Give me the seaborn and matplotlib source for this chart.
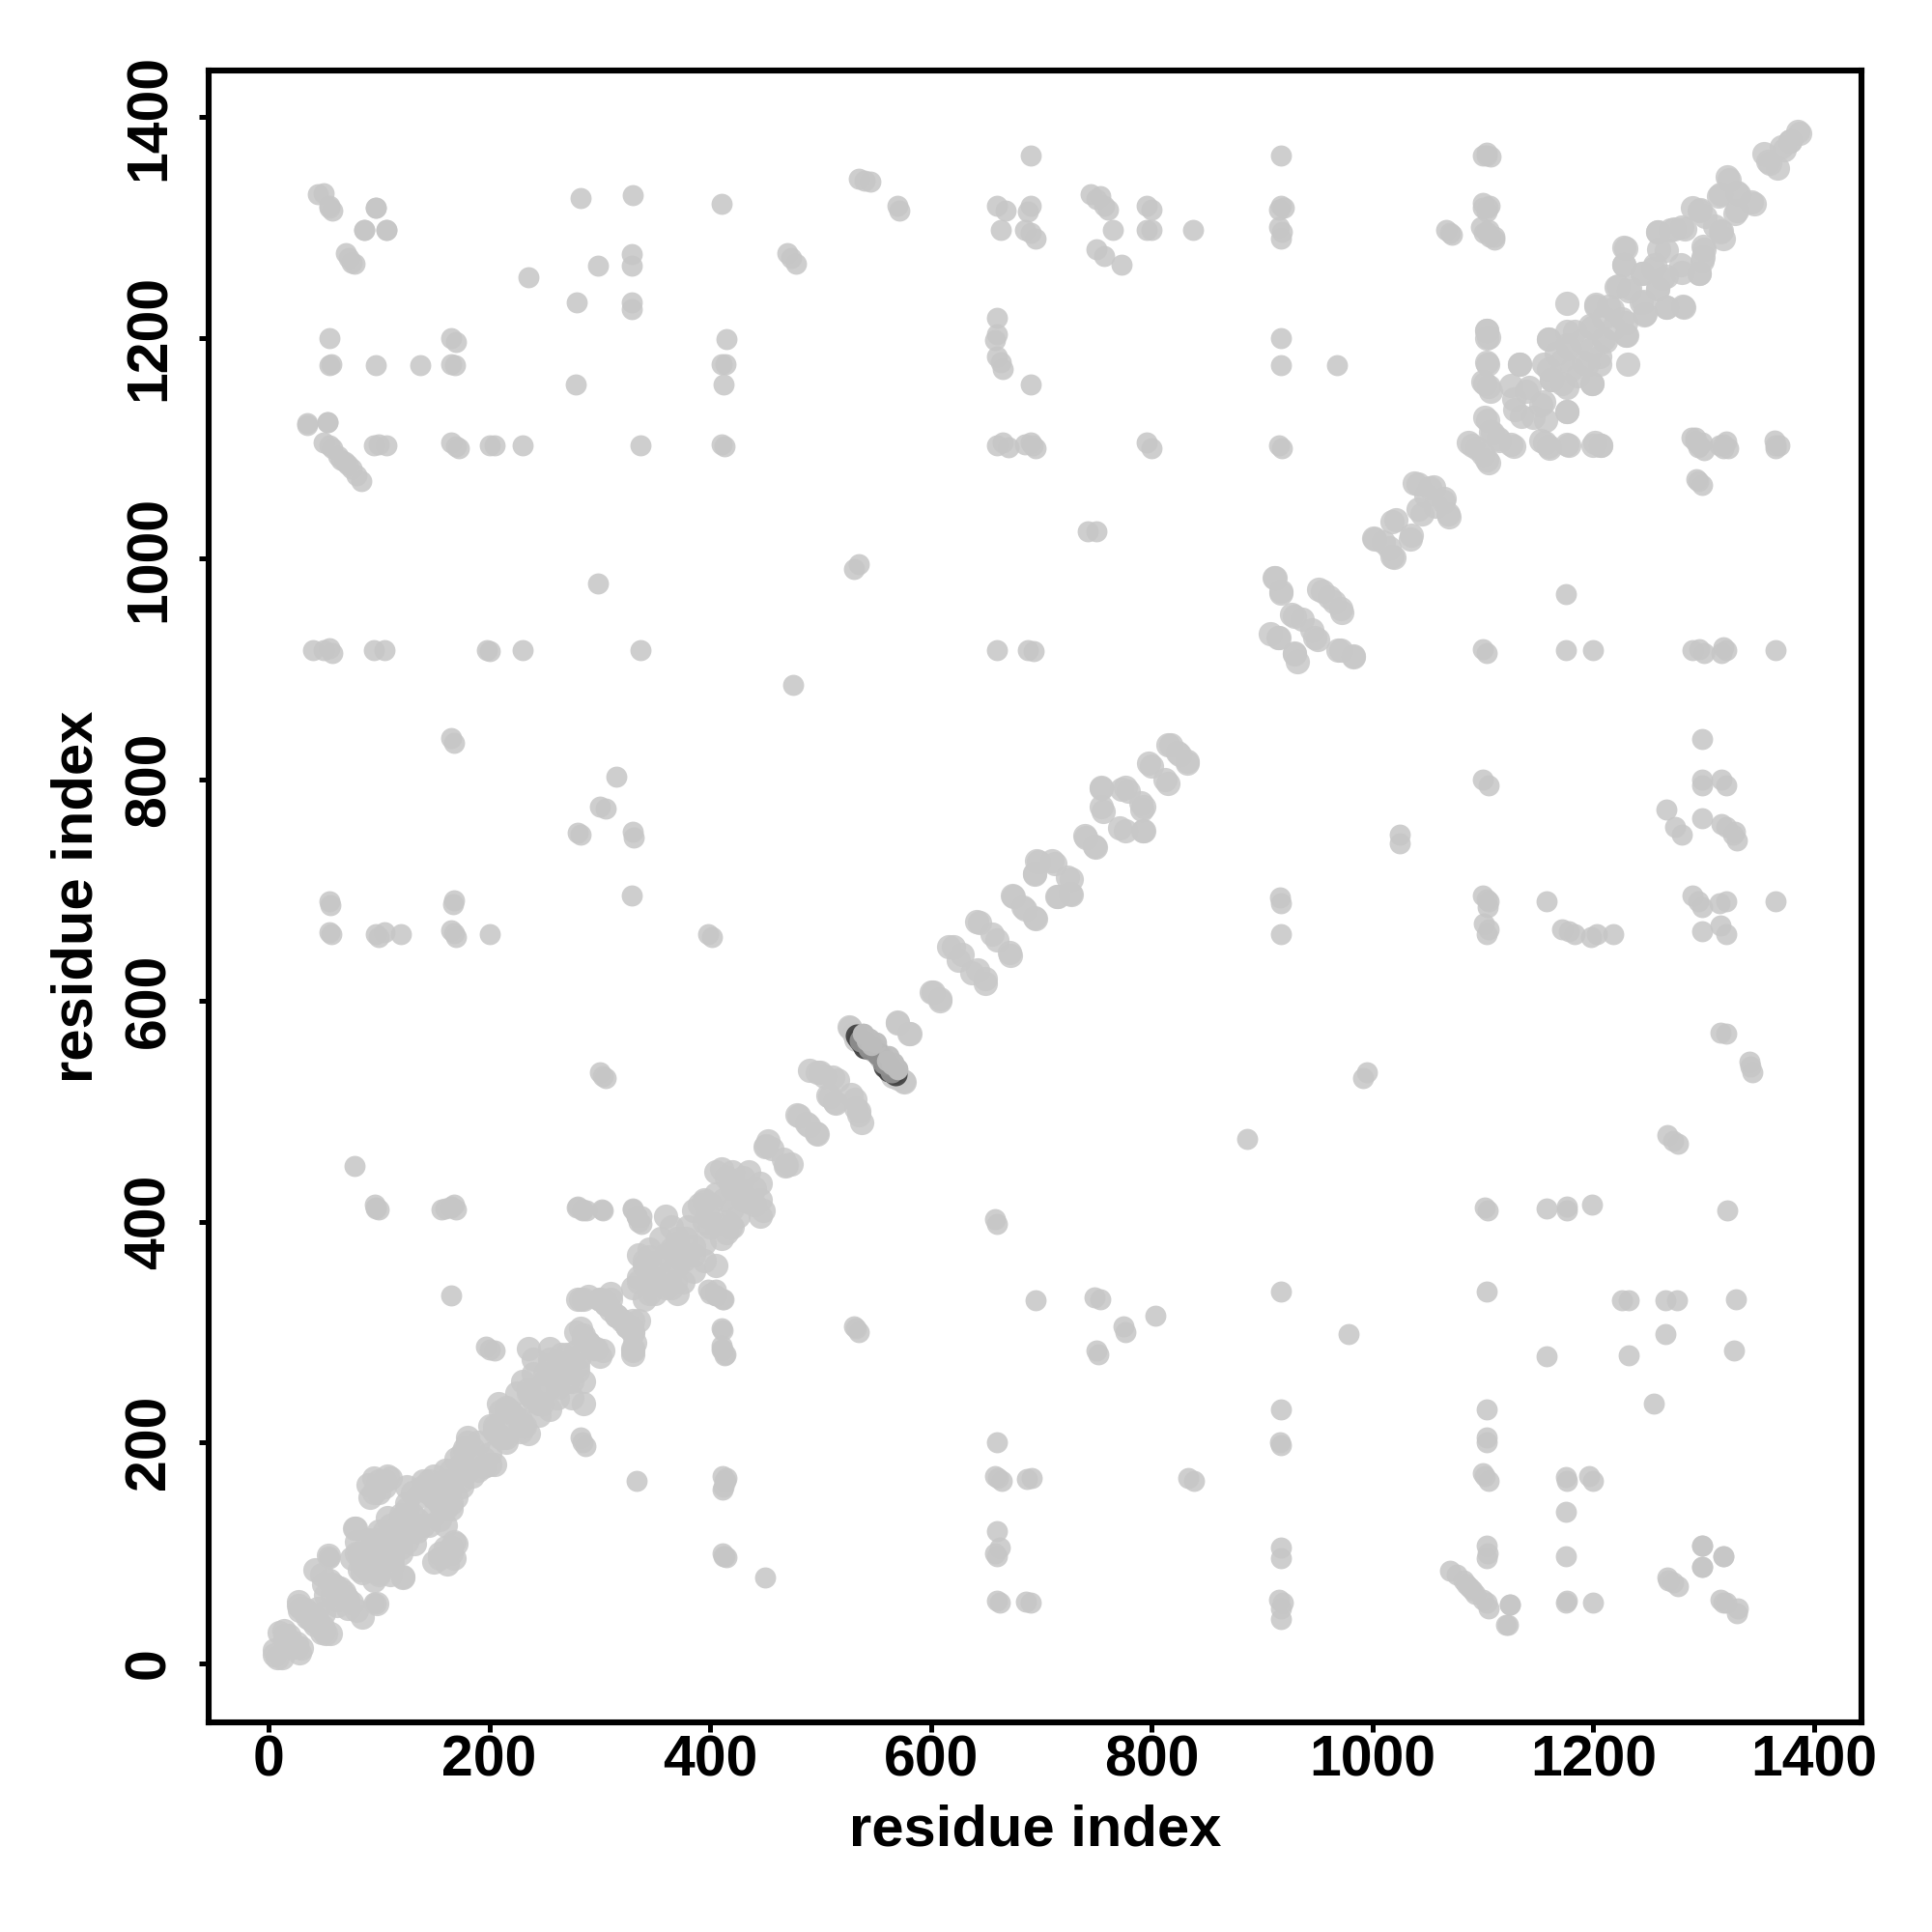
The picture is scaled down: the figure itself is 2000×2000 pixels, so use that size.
import matplotlib
matplotlib.use("Agg")
import matplotlib.pyplot as plt
import pandas as pd
import seaborn as sns

far_contacts = [
 (690,1365),(917,1365),(1103,1365),(1107,1364),
 (45,1330),(50,1331),(55,1320),(58,1315),(97,1318),(283,1327),(330,1329),(410,1321),
 (535,1344),(540,1342),(545,1341),(570,1320),(571,1315),(660,1320),(668,1315),(690,1320),(688,1314),
 (745,1330),(750,1326),(753,1328),(757,1320),(760,1316),(795,1320),(800,1316),
 (917,1320),(915,1316),(920,1318),(1100,1318),(1106,1320),(1103,1314),
 (87,1298),(107,1298),(663,1298),(685,1298),(690,1295),(695,1290),(795,1298),(800,1298),(837,1298),(765,1298),
 (915,1300),(918,1296),(917,1290),(1067,1298),(1070,1295),(1072,1293),(1098,1300),(1103,1296),(1106,1292),(1110,1289),
 (70,1277),(73,1272),(78,1267),(298,1265),(329,1265),(329,1276),(235,1255),
 (279,1232),(329,1232),(329,1226),(470,1277),(473,1272),(478,1267),(750,1280),(757,1274),(773,1266),
 (660,1218),(660,1203),(658,1198),(660,1183),(663,1178),(665,1172),
 (55,1200),(165,1200),(170,1196),(415,1199),(917,1200),
 (55,1175),(57,1176),(97,1175),(137,1175),(165,1176),(169,1175),(410,1176),(414,1176),(917,1175),(968,1175),
 (278,1158),(412,1158),(690,1158),(35,1123),(53,1124),
 (50,1105),(58,1100),(63,1093),(69,1088),(75,1082),(80,1076),(84,1070),(55,1103),(66,1090),(72,1085),
 (95,1103),(100,1104),(107,1103),(165,1105),(170,1102),(172,1100),(200,1103),(205,1103),(230,1103),(337,1103),
 (410,1104),(413,1102),(660,1103),(665,1105),(670,1101),(685,1104),(690,1105),(695,1100),(692,1103),
 (795,1105),(800,1100),(915,1103),(918,1100),
 (742,1025),(750,1025),(535,995),(530,991),(298,978),
 (40,917),(50,917),(55,919),(58,915),(95,917),(105,917),(198,917),(200,916),(230,917),(337,917),
 (660,917),(688,917),(693,916),(475,886),(165,838),(168,833),(315,803),
 (300,776),(305,774),(280,752),(283,750),(330,753),(331,748),(329,695),
 (55,690),(56,686),(168,691),(167,687),(55,662),(57,660),(97,660),(100,658),(105,662),(120,660),
 (165,664),(168,661),(170,658),(200,660),(398,660),(402,658),
 (300,535),(303,532),(305,530),(78,450),(97,413),(100,411),(160,412),(165,414),(170,411),
 (280,414),(284,411),(288,410),(302,411),(330,411),(333,405),(335,400),(338,398),(165,333),
 (197,287),(200,284),(205,283),(95,55),(97,54),(1121,35),(1124,53),(412,97),(415,96),
 (75,1268),(87,1298),(107,1298),(97,1318),(55,1318),(413,165),(411,157),(415,168),
 (284,410),(279,413),(303,410),(305,330),(412,330),(405,333),(405,338),
 (1292,1110),(1298,1105),(1295,1101),(1318,1104),(1322,1100),(1368,1103),(1365,1100),
]

near_contacts = [
 (5,8),(12,5),(15,22),(10,28),(20,18),(25,15),(30,14),(18,25),
 (27,52),(33,49),(38,45),(43,40),(28,48),(35,42),(40,38),(50,30),(56,27),
 (42,85),(48,80),(55,75),(60,70),(65,68),(70,60),(72,58),(50,72),(58,62),(54,98),(45,50),(52,62),
 (75,95),(80,100),(85,90),(90,95),(95,88),(100,82),(110,80),(122,78),(79,122),(90,112),(97,108),(105,100),
 (110,112),(100,120),(108,132),(115,118),(120,105),(125,110),(112,95),(92,103),(85,82),
 (90,162),(95,168),(105,165),(100,155),(92,150),(110,168),(165,100),(170,108),(155,95),(160,105),
 (120,135),(125,145),(130,120),(135,130),(140,125),(145,155),(150,150),(150,135),(155,145),(140,160),
 (160,125),(165,140),(130,155),(145,165),(150,170),(155,162),(160,175),(165,160),(170,185),(175,190),
 (180,175),(185,195),(190,200),(195,178),(200,180),(205,180),(175,165),
 (200,215),(205,212),(210,205),(215,205),(210,228),(215,232),(225,222),(230,215),(235,208),(220,228),
 (225,245),(230,255),(235,248),(240,238),(245,235),(250,262),(255,250),(262,240),(255,275),(265,280),
 (272,265),(280,270),(285,255),(275,240),(285,235),(270,255),(278,282),(262,268),
 (278,300),(285,295),(290,290),(297,285),(303,283),(280,330),(285,330),
 (300,330),(305,325),(310,330),(315,315),(320,310),(325,305),(330,300),(330,283),(332,290),(335,310),
 (330,340),(335,350),(340,360),(345,335),(350,345),(355,365),(360,370),(365,340),(370,335),(345,368),(375,345),(348,355),
 (355,385),(365,375),(370,385),(380,370),(385,378),(395,365),(405,360),
 (380,395),(385,410),(395,400),(400,415),(405,398),(415,390),(420,395),(425,405),(412,420),(395,418),
 (405,445),(410,448),(425,430),(435,445),(440,430),(445,420),(440,415),(430,420),(418,435),
 (451,469),(456,466),(468,450),(473,452),
 (479,497),(487,489),(496,480),(500,535),(511,531),(490,537),(508,513),(514,507),(528,515),(535,497),(532,503),
 (527,575),(532,565),(540,560),(548,555),(555,550),(563,540),(570,530),(576,526),(570,581),(580,570),
 (602,608),(608,600),(616,649),(628,642),(637,625),(649,620),(641,672),(655,660),(671,644),
 (674,695),(694,675),(683,685),(697,726),(694,714),(710,727),(724,712),(715,694),(727,696),
 (740,748),(749,739),(754,793),(754,776),(773,791),(771,756),(792,754),(793,776),(779,790),
 (797,815),(812,800),(815,832),(832,817),(823,825),
 (1387,1385),(1378,1378),(1373,1370),(1358,1360),(1367,1354),(1321,1346),(1343,1323),(1330,1332),(1313,1328),(1330,1315),
 (1296,1315),(1316,1297),(1290,1318),(1310,1301),
 (1258,1296),(1273,1299),(1283,1299),(1300,1280),(1298,1270),(1296,1258),(1259,1280),(1279,1266),(1254,1263),(1266,1256),
 (1244,1258),(1258,1244),(1281,1229),(1266,1228),(1246,1221),(1228,1282),(1228,1266),(1222,1247),(1233,1245),(1243,1232),
 (1202,1230),(1217,1226),(1229,1214),(1229,1202),(1209,1218),(1199,1209),(1211,1197),(1176,1231),
 (1176,1206),(1159,1199),(1189,1197),(1172,1180),(1191,1178),(1206,1183),(1155,1176),(1172,1159),(1186,1166),(1199,1159),(1162,1162),(1176,1194),
 (1176,1133),(1133,1176),(1125,1157),(1139,1152),(1155,1142),(1129,1135),(1145,1128),
 (1103,1207),(1103,1200),(1103,1178),(1102,1159),(1105,1156),(1102,1128),(1109,1114),(1125,1104),(1115,1107),
 (1087,1105),(1095,1100),(1103,1090),(1152,1107),(1160,1100),(1176,1104),(1201,1105),(1207,1103),
 (1038,1069),(1052,1064),(1065,1055),(1068,1041),(1045,1041),(1048,1057),
 (1018,1034),(1035,1021),(1001,1019),(1018,1002),(1010,1015),
 (911,983),(917,969),(951,972),(971,955),(927,950),(948,929),(914,929),(929,915),(971,917),(983,912),(961,965),(936,945),(907,932),
]

dark_contacts = [(533,568),(537,562),(540,558),(558,545),(562,540),(566,535)]
mid_contacts = [(536,564),(544,557),(552,552),(560,543)]
cap_contacts = [(538,570),(542,564),(546,560),(562,550),(566,544),(570,539)]

tick_values = [0, 200, 400, 600, 800, 1000, 1200, 1400]
axis_name = "residue index"


def mirrored(pairs):
    first = [p[0] for p in pairs] + [p[1] for p in pairs]
    second = [p[1] for p in pairs] + [p[0] for p in pairs]
    return pd.DataFrame({"i": first, "j": second})


sns.set_theme(style="white")
plt.rcParams["font.family"] = ["Liberation Sans", "DejaVu Sans"]
plt.rcParams["font.weight"] = "bold"

fig = plt.figure(figsize=(10, 10), dpi=200, facecolor="white")
ax = fig.add_axes([216/2000, (2000-1783)/2000, (1927-216)/2000, (1783-73)/2000])

sns.scatterplot(data=mirrored(far_contacts), x="i", y="j", ax=ax, s=62, color="#c6c6c6",
                alpha=0.85, linewidth=0, legend=False)
sns.scatterplot(data=mirrored(near_contacts), x="i", y="j", ax=ax, s=82, color="#c8c8c8",
                alpha=0.85, linewidth=0, legend=False)
sns.scatterplot(data=mirrored(dark_contacts), x="i", y="j", ax=ax, s=75, color="#444444",
                alpha=0.95, linewidth=0, legend=False)
sns.scatterplot(data=mirrored(mid_contacts), x="i", y="j", ax=ax, s=75, color="#8f8f8f",
                alpha=0.95, linewidth=0, legend=False)
sns.scatterplot(data=mirrored(cap_contacts), x="i", y="j", ax=ax, s=60, color="#bdbdbd",
                alpha=0.95, linewidth=0, legend=False)

ax.set_xlim(-54.2, 1442.8)
ax.set_ylim(-53.4, 1442)
ax.set_xticks(tick_values)
ax.set_yticks(tick_values)
ax.set_xticklabels([str(v) for v in tick_values], fontsize=21.2, fontweight="bold")
ax.set_yticklabels([str(v) for v in tick_values], fontsize=21.2, fontweight="bold",
                   rotation=90, va="center")
ax.tick_params(axis="both", which="major", bottom=True, left=True, length=3.5, width=1.8,
               color="black", labelcolor="black", pad=1)
ax.tick_params(axis="y", pad=8.6)
for side in ax.spines.values():
    side.set_visible(True)
    side.set_linewidth(2.2)
    side.set_color("black")

ax.set_xlabel(axis_name, fontsize=21.5, fontweight="bold", color="black")
ax.set_ylabel(axis_name, fontsize=21.5, fontweight="bold", color="black")
ax.xaxis.set_label_coords(0.5, (1783-1895)/1710, transform=ax.transAxes)
ax.xaxis.label.set_va("center")
ax.yaxis.set_label_coords((80-216)/1711, 0.5, transform=ax.transAxes)
ax.yaxis.label.set_va("center")

fig.savefig("out.png", dpi=200, facecolor="white")
